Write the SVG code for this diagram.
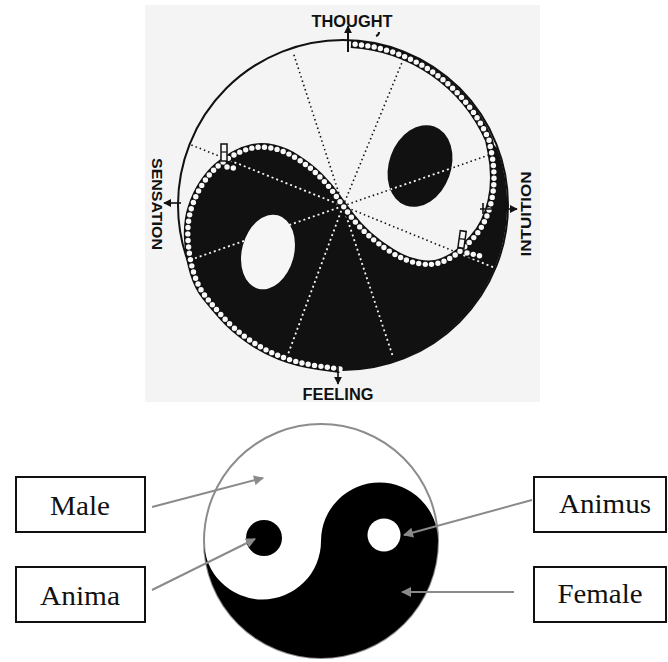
<svg xmlns="http://www.w3.org/2000/svg" width="668" height="662" viewBox="0 0 668 662">
<style>
.lbl{font-family:"Liberation Sans","DejaVu Sans",sans-serif;font-weight:bold;fill:#111}
.dotb{fill:none;stroke:#111;stroke-width:1.6;stroke-dasharray:1.5 3}
.dotw{fill:none;stroke:#f6f6f6;stroke-width:1.8;stroke-dasharray:2 3}
.bandb{fill:none;stroke:#111;stroke-width:8;stroke-linejoin:round}
.bandw{fill:none;stroke:#f8f8f8;stroke-width:5.4;stroke-linecap:round;stroke-dasharray:0 6.4}
.box{fill:#fff;stroke:#111;stroke-width:2}
.serif{font-family:"Liberation Serif","Times New Roman",serif;font-size:27px;fill:#111;text-anchor:middle}
.conn{stroke:#8a8a8a;stroke-width:2;fill:none}
</style>
<defs>
<path id="blackfill" d="M 340 369 L 318.5 366 Q 297 363 279.5 356 Q 262 349 247.5 338.5 Q 233 328 223.5 317.5 Q 214 307 206 297 Q 198 287 193.5 272 Q 189 257 188 239.5 Q 187 222 191.5 208 Q 196 194 203 183.5 Q 210 173 217.5 166.5 Q 225 160 234 155 Q 243 150 252.5 148 Q 262 146 273.5 148.5 Q 285 151 297.5 159 Q 310 167 319.5 176.5 Q 329 186 336 196 Q 343 206 350.5 216 Q 358 226 368 235 Q 378 244 391.5 252.5 Q 405 261 418.5 263.5 Q 432 266 442 262 Q 452 258 458.5 252.5 Q 465 247 472.5 239 Q 480 231 484.5 221.5 Q 489 212 491.5 201 Q 494 190 494 177.5 Q 494 165 491.5 152.5 L 489 140 L 497 148 A 165 165 0 0 1 340 370 Z"/>
<path id="band" d="M 340 369 L 318.5 366 Q 297 363 279.5 356 Q 262 349 247.5 338.5 Q 233 328 223.5 317.5 Q 214 307 206 297 Q 198 287 193.5 272 Q 189 257 188 239.5 Q 187 222 191.5 208 Q 196 194 203 183.5 Q 210 173 217.5 166.5 Q 225 160 234 155 Q 243 150 252.5 148 Q 262 146 273.5 148.5 Q 285 151 297.5 159 Q 310 167 319.5 176.5 Q 329 186 336 196 Q 343 206 350.5 216 Q 358 226 368 235 Q 378 244 391.5 252.5 Q 405 261 418.5 263.5 Q 432 266 442 262 Q 452 258 458.5 252.5 Q 465 247 472.5 239 Q 480 231 484.5 221.5 Q 489 212 491.5 201 Q 494 190 494 177.5 Q 494 165 491.5 152.5 L 489 140 A 161 161 0 0 0 351 44"/>
<ellipse id="blackegg" cx="420" cy="166" rx="31" ry="42" transform="rotate(20 420 166)"/>
<clipPath id="blackclip"><use href="#blackfill"/><use href="#blackegg"/></clipPath>
<g id="radials">
<line x1="343" y1="206" x2="293" y2="52"/>
<line x1="343" y1="206" x2="403" y2="60"/>
<line x1="343" y1="206" x2="492" y2="154"/>
<line x1="343" y1="206" x2="495" y2="268"/>
<line x1="343" y1="206" x2="393" y2="357"/>
<line x1="343" y1="206" x2="287" y2="357"/>
<line x1="343" y1="206" x2="190" y2="260"/>
<line x1="343" y1="206" x2="189" y2="144"/>
</g>
<marker id="gh" viewBox="0 0 10 10" refX="9" refY="5" markerWidth="11" markerHeight="10" markerUnits="userSpaceOnUse" orient="auto"><path d="M0,0 L10,5 L0,10 Z" fill="#8a8a8a"/></marker>
<marker id="bh" viewBox="0 0 10 10" refX="9" refY="5" markerWidth="8" markerHeight="8" markerUnits="userSpaceOnUse" orient="auto"><path d="M0,0 L10,5 L0,10 Z" fill="#111"/></marker>
</defs>

<g id="jung-typology">
<rect x="145" y="5" width="395" height="397" fill="#f4f4f4"/>
<use href="#blackfill" fill="#111"/>
<use href="#blackegg" fill="#111"/>
<use href="#radials" class="dotb"/>
<g clip-path="url(#blackclip)"><use href="#radials" class="dotw"/></g>
<ellipse cx="268" cy="252" rx="26" ry="38" transform="rotate(15 268 252)" fill="#f6f6f6"/>
<circle cx="343" cy="205" r="165" fill="none" stroke="#111" stroke-width="2"/>
<use href="#band" class="bandb"/>
<use href="#band" class="bandw"/>
<path d="M 227 167 L 239 169" class="bandb"/>
<path d="M 227 167 L 239 169" class="bandw"/>
<path d="M 467 253 L 481 256" class="bandb"/>
<path d="M 467 253 L 481 256" class="bandw"/>
<rect x="221" y="144" width="6" height="17" fill="#f6f6f6" stroke="#111" stroke-width="1.5"/>
<line x1="221" y1="152" x2="227" y2="152" stroke="#111" stroke-width="1.2"/>
<rect x="459" y="231" width="6" height="17" fill="#f6f6f6" stroke="#111" stroke-width="1.5" transform="rotate(8 462 240)"/>
<line x1="459" y1="239" x2="465" y2="239" stroke="#111" stroke-width="1.2" transform="rotate(8 462 240)"/>
<line x1="348" y1="52" x2="348" y2="26" stroke="#111" stroke-width="2" marker-end="url(#bh)"/>
<path d="M 376 36 q 3 -1 3 -4" fill="none" stroke="#111" stroke-width="2"/>
<line x1="181" y1="203" x2="164" y2="203" stroke="#111" stroke-width="1.6" marker-end="url(#bh)"/>
<line x1="480" y1="209" x2="517" y2="209" stroke="#111" stroke-width="1.6" marker-end="url(#bh)"/>
<line x1="483" y1="203" x2="483" y2="214" stroke="#111" stroke-width="1.6"/>
<line x1="338" y1="367" x2="338" y2="384" stroke="#111" stroke-width="1.6" marker-end="url(#bh)"/>
<text class="lbl" x="352" y="27" font-size="17" text-anchor="middle" textLength="81" lengthAdjust="spacingAndGlyphs">THOUGHT</text>
<text class="lbl" font-size="15" text-anchor="middle" transform="translate(152 204) rotate(90)" textLength="92" lengthAdjust="spacingAndGlyphs">SENSATION</text>
<text class="lbl" font-size="15" text-anchor="middle" transform="translate(531 214) rotate(-90)" textLength="85" lengthAdjust="spacingAndGlyphs">INTUITION</text>
<text class="lbl" x="338" y="400" font-size="16" text-anchor="middle" textLength="71" lengthAdjust="spacingAndGlyphs">FEELING</text>
</g>

<g id="yinyang">
<circle cx="321" cy="541" r="117" fill="#fff" stroke="#8c8c8c" stroke-width="2"/>
<path d="M 321 541 A 58.5 58.5 0 0 1 438 541 A 117 117 0 0 1 204 541 A 58.5 58.5 0 0 0 321 541 Z" fill="#000"/>
<circle cx="264" cy="538" r="18" fill="#000"/>
<circle cx="384" cy="535" r="16.5" fill="#fff"/>
</g>

<g id="connectors">
<line class="conn" x1="152" y1="507" x2="263" y2="478" marker-end="url(#gh)"/>
<line class="conn" x1="152" y1="590" x2="255" y2="539" marker-end="url(#gh)"/>
<line class="conn" x1="532" y1="500" x2="404" y2="535" marker-end="url(#gh)"/>
<line class="conn" x1="514" y1="592" x2="402" y2="592" marker-end="url(#gh)"/>
</g>

<g id="male"><rect class="box" x="16" y="477" width="129" height="55"/><text class="serif" x="80" y="515" textLength="60" lengthAdjust="spacingAndGlyphs">Male</text></g>
<g id="anima"><rect class="box" x="16" y="567" width="129" height="55"/><text class="serif" x="80" y="605" textLength="80" lengthAdjust="spacingAndGlyphs">Anima</text></g>
<g id="animus"><rect class="box" x="534" y="477" width="132" height="55"/><text class="serif" x="605" y="513" textLength="92" lengthAdjust="spacingAndGlyphs">Animus</text></g>
<g id="female"><rect class="box" x="534" y="567" width="132" height="55"/><text class="serif" x="600" y="603" textLength="85" lengthAdjust="spacingAndGlyphs">Female</text></g>
</svg>
